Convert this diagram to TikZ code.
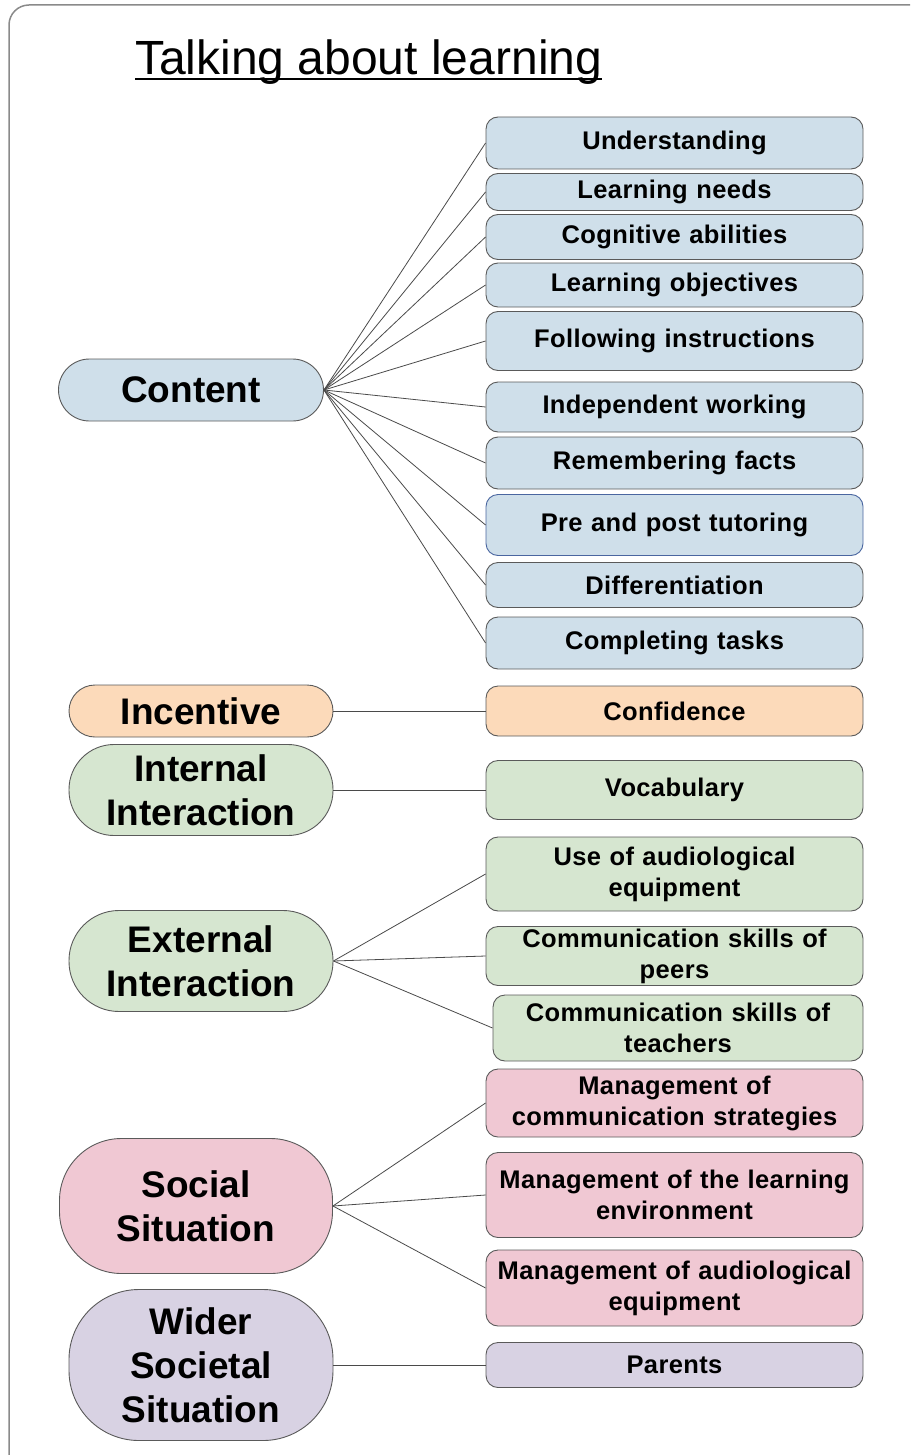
\documentclass[tikz,border=0pt]{standalone}
\usepackage{fontspec}
\setmainfont{Liberation Sans}
\definecolor{cblue}{HTML}{CFDFEA}
\definecolor{corange}{HTML}{FCDABA}
\definecolor{cgreen}{HTML}{D6E6D0}
\definecolor{cpink}{HTML}{F0C8D3}
\definecolor{cpurple}{HTML}{D8D2E3}
\definecolor{boxline}{HTML}{5A5A5A}
\definecolor{tutorline}{HTML}{4A66A0}
\definecolor{linkgray}{HTML}{4A4A4A}
\definecolor{framegray}{HTML}{8A8A8A}
\begin{document}
\begin{tikzpicture}[x=1pt,y=-1pt]
  \tikzstyle{topic}=[draw=boxline,line width=0.9pt,font=\bfseries\fontsize{37}{44}\selectfont,align=center,inner sep=0pt,minimum width=264pt]
  \tikzstyle{item}=[draw=boxline,line width=0.9pt,rounded corners=12pt,font=\bfseries\fontsize{25.5}{31}\selectfont\addfontfeature{LetterSpace=1.5},align=center,text width=377pt,inner xsep=0pt,inner ysep=0pt]
  \tikzstyle{link}=[draw=linkgray,line width=0.8pt]
  \useasboundingbox (0,0) rectangle (910,1455);
  \clip (0,0) rectangle (910,1455);
  \draw[framegray,line width=1.5pt,rounded corners=20pt] (9,5) rectangle (940,1490);
  % title
  \node[font=\fontsize{48}{56}\selectfont,anchor=base west,inner sep=0pt] (title) at (135,75) {Talking about learning};
  \draw[line width=2pt] ([yshift=-4pt]title.base west) -- ([yshift=-4pt]title.base east);
  % topics
  \node[topic,fill=cblue,minimum height=62pt,minimum width=265pt,rounded corners=31pt] (content) at (191,390) {Content};
  \node[topic,fill=corange,minimum height=52pt,rounded corners=26pt] (incentive) at (201,711) {Incentive};
  \node[topic,fill=cgreen,minimum height=91pt,rounded corners=45pt] (internal) at (201,790) {Internal\\Interaction};
  \node[topic,fill=cgreen,minimum height=101pt,rounded corners=50pt] (external) at (201,961) {External\\Interaction};
  \node[topic,fill=cpink,minimum height=135pt,minimum width=273pt,rounded corners=62pt] (social) at (196,1206) {Social\\Situation};
  \node[topic,fill=cpurple,minimum height=151pt,rounded corners=70pt] (wider) at (201,1365) {Wider\\Societal\\Situation};
  % content items
  \foreach \n/\y/\h/\t in {under/143/52/Understanding, needs/192/37/Learning needs,
      cognitive/237/45/Cognitive abilities, objectives/285/44/Learning objectives,
      instructions/341/59/Following instructions, independent/407/50/Independent working,
      facts/463/52/Remembering facts, differentiation/585/45/Differentiation,
      tasks/643/52/Completing tasks}
    \node[item,fill=cblue,minimum height=\h pt] (\n) at (674.5,\y) {\t};
  \node[item,fill=cblue,draw=tutorline,minimum height=61pt] (tutoring) at (674.5,525) {Pre and post tutoring};
  \foreach \n in {under,needs,cognitive,objectives,instructions,independent,facts,tutoring,differentiation,tasks}
    \draw[link] (content.east) -- (\n.west);
  % other items
  \node[item,fill=corange,minimum height=50pt] (confidence) at (674.5,711) {Confidence};
  \node[item,fill=cgreen,minimum height=59pt] (vocabulary) at (674.5,790) {Vocabulary};
  \node[item,fill=cgreen,minimum height=74pt] (equipment) at (674.5,874) {Use of audiological\\equipment};
  \node[item,fill=cgreen,minimum height=59pt] (peers) at (674.5,956) {Communication skills of\\peers};
  \node[item,fill=cgreen,minimum height=66pt,text width=370pt] (teachers) at (678,1028) {Communication skills of\\teachers};
  \node[item,fill=cpink,minimum height=68pt] (strategies) at (674.5,1103) {Management of\\communication strategies};
  \node[item,fill=cpink,minimum height=85pt] (environment) at (674.5,1195) {Management of the learning\\environment};
  \node[item,fill=cpink,minimum height=76pt] (audio) at (674.5,1288) {Management of audiological\\equipment};
  \node[item,fill=cpurple,minimum height=45pt] (parents) at (674.5,1365) {Parents};
  \draw[link] (incentive) -- (confidence);
  \draw[link] (internal) -- (vocabulary);
  \foreach \n in {equipment,peers,teachers}
    \draw[link] (external.east) -- (\n.west);
  \foreach \n in {strategies,environment,audio}
    \draw[link] (social.east) -- (\n.west);
  \draw[link] (wider) -- (parents);
\end{tikzpicture}
\end{document}
